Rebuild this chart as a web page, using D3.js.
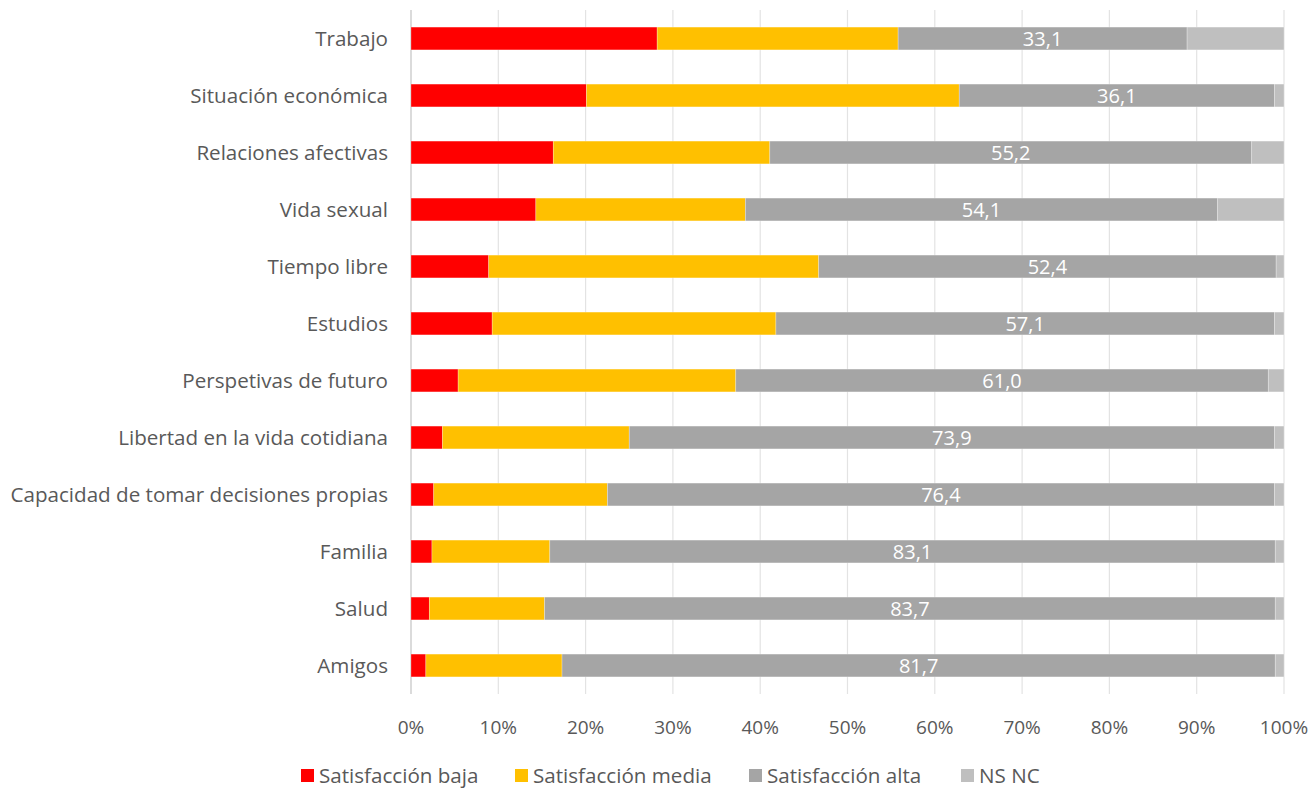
<!DOCTYPE html>
<html>
<head>
<meta charset="utf-8">
<script src="https://cdn.jsdelivr.net/npm/d3@7"></script>
<style>
  body { margin: 0; background: #fff; }
  text { font-family: "Open Sans", "Noto Sans", sans-serif; }
</style>
</head>
<body>
<svg id="chart" width="1311" height="790"></svg>
<script>
const categories = [
  "Trabajo", "Situación económica", "Relaciones afectivas", "Vida sexual",
  "Tiempo libre", "Estudios", "Perspetivas de futuro", "Libertad en la vida cotidiana",
  "Capacidad de tomar decisiones propias", "Familia", "Salud", "Amigos"
];
const seriesNames = ["Satisfacción baja", "Satisfacción media", "Satisfacción alta", "NS NC"];
const baja  = [28.2, 20.1, 16.3, 14.3, 8.9, 9.3, 5.4, 3.6, 2.6, 2.4, 2.1, 1.7];
const media = [27.6, 42.7, 24.8, 24.0, 37.8, 32.5, 31.8, 21.4, 19.9, 13.5, 13.2, 15.6];
const alta  = [33.1, 36.1, 55.2, 54.1, 52.4, 57.1, 61.0, 73.9, 76.4, 83.1, 83.7, 81.7];
const nsnc  = [11.1, 1.1, 3.7, 7.6, 0.9, 1.1, 1.8, 1.1, 1.1, 1.0, 1.0, 1.0];
const colors = ["#FF0000", "#FFC000", "#A5A5A5", "#BFBFBF"];
const ticks = [0, 0.1, 0.2, 0.3, 0.4, 0.5, 0.6, 0.7, 0.8, 0.9, 1];

const svg = d3.select("#chart");
const margin = {left: 411, right: 27, top: 10, bottom: 96};
const W = 1311, H = 790;

const rows = categories.map((c, i) => {
  const vals = [baja[i], media[i], alta[i], nsnc[i]];
  const tot = d3.sum(vals);
  return {cat: c, vals, tot};
});

const x = d3.scaleLinear().domain([0, 1]).range([margin.left, W - margin.right]);
const y = d3.scaleBand().domain(categories).range([margin.top, H - margin.bottom]).paddingInner(0.6).paddingOuter(0.3);

// gridlines
svg.append("g")
  .selectAll("line")
  .data(ticks)
  .join("line")
  .attr("x1", d => x(d)).attr("x2", d => x(d))
  .attr("y1", margin.top).attr("y2", H - margin.bottom)
  .attr("stroke", d => d === 0 ? "#CFCFCF" : "#E3E3E3")
  .attr("stroke-width", d => d === 0 ? 1.5 : 1.2);

// tick labels
svg.append("g")
  .selectAll("text")
  .data(ticks)
  .join("text")
  .attr("x", d => x(d))
  .attr("y", 734)
  .attr("text-anchor", "middle")
  .attr("fill", "#595959")
  .style("font-size", "19px")
  .text(d => d3.format(".0%")(d));

// category labels
svg.append("g")
  .selectAll("text")
  .data(categories)
  .join("text")
  .attr("x", 388)
  .attr("y", d => y(d) + y.bandwidth() / 2)
  .attr("dy", "0.35em")
  .attr("text-anchor", "end")
  .attr("fill", "#595959")
  .style("font-size", "20.6px")
  .text(d => d);

// bars
const segs = [];
rows.forEach(r => {
  let acc = 0;
  r.vals.forEach((v, k) => {
    segs.push({cat: r.cat, k, v, x0: acc / r.tot, x1: (acc + v) / r.tot});
    acc += v;
  });
});

svg.append("g")
  .selectAll("rect")
  .data(segs)
  .join("rect")
  .attr("x", d => x(d.x0))
  .attr("y", d => y(d.cat))
  .attr("width", d => x(d.x1) - x(d.x0))
  .attr("height", y.bandwidth())
  .attr("fill", d => colors[d.k])
  .attr("stroke", "#fff")
  .attr("stroke-opacity", 0.35)
  .attr("stroke-width", 0.75);

// value labels on "alta"
svg.append("g")
  .selectAll("text")
  .data(segs.filter(d => d.k === 2))
  .join("text")
  .attr("x", d => (x(d.x0) + x(d.x1)) / 2)
  .attr("y", d => y(d.cat) + y.bandwidth() / 2)
  .attr("dy", "0.36em")
  .attr("text-anchor", "middle")
  .attr("fill", "#fff")
  .style("font-size", "20px")
  .text(d => d.v.toFixed(1).replace(".", ","));

// legend
const legX = [301, 515, 749, 961];
const leg = svg.append("g")
  .selectAll("g")
  .data(seriesNames)
  .join("g")
  .attr("transform", (d, i) => `translate(${legX[i]},769)`);
leg.append("rect").attr("width", 13).attr("height", 13).attr("fill", (d, i) => colors[i]);
leg.append("text")
  .attr("x", 18).attr("y", 6.5).attr("dy", "0.34em")
  .attr("fill", "#595959")
  .style("font-size", "20.6px")
  .text(d => d);
</script>
</body>
</html>
